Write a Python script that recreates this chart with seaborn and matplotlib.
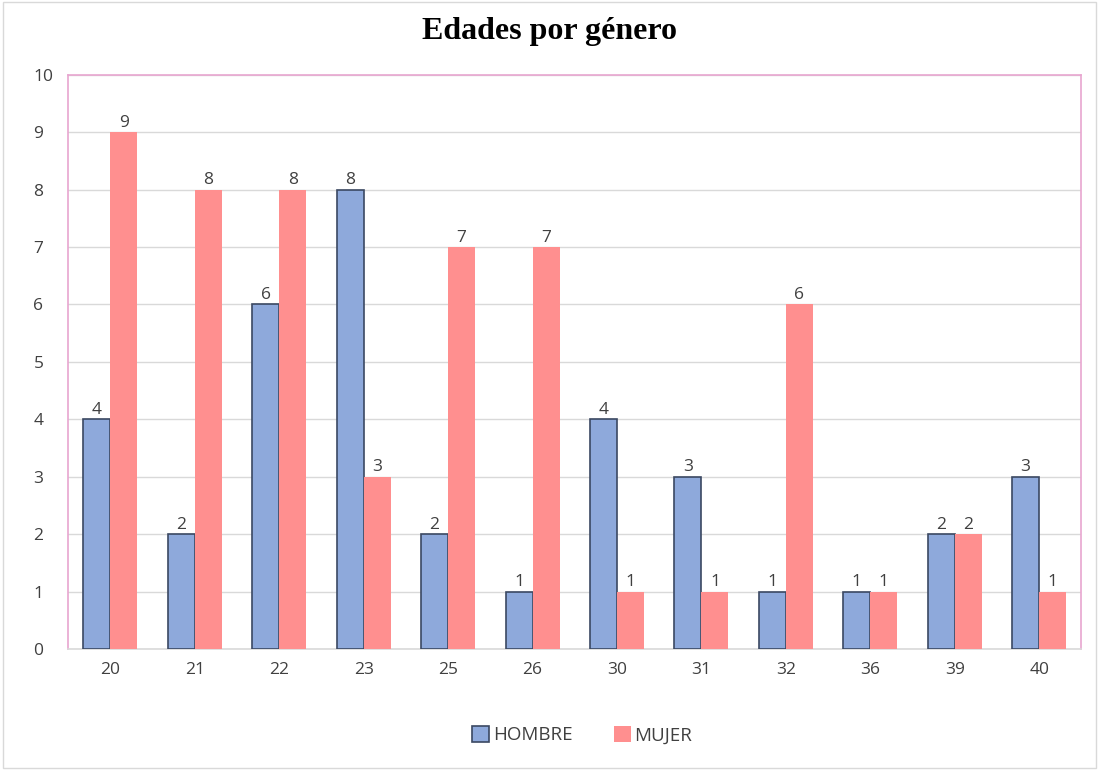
import pandas as pd
import seaborn as sns
import matplotlib.pyplot as plt
from matplotlib.patches import Patch

# datos
edades = ['20', '21', '22', '23', '25', '26', '30', '31', '32', '36', '39', '40']
hombre = [4, 2, 6, 8, 2, 1, 4, 3, 1, 1, 2, 3]
mujer = [9, 8, 8, 3, 7, 7, 1, 1, 6, 1, 2, 1]
generos = ['HOMBRE', 'MUJER']

df = pd.DataFrame({
    'edad': edades * 2,
    'cantidad': hombre + mujer,
    'genero': ['HOMBRE'] * len(edades) + ['MUJER'] * len(edades),
})

azul = '#8EA9DB'
rosa = '#FF8F8F'
texto = '#404040'

sns.set_style('white')
plt.rcParams['font.family'] = ['Open Sans', 'DejaVu Sans']

fig = plt.figure(figsize=(10.99, 7.7), dpi=100)
ax = fig.add_axes([0.062, 0.157, 0.922, 0.746])

sns.barplot(data=df, x='edad', y='cantidad', hue='genero', order=edades,
            hue_order=generos, palette=[azul, rosa], width=0.64, gap=0,
            saturation=1, legend=False, ax=ax, zorder=3)

# borde oscuro solo en las barras azules
for c, col in zip(ax.containers, [azul, rosa]):
    for p in c:
        if col == azul:
            p.set_edgecolor('#3B4862')
            p.set_linewidth(1.2)
        else:
            p.set_edgecolor('none')
    ax.bar_label(c, fontsize=12.5, color=texto, padding=1)

ax.set_ylim(0, 10)
ax.set_yticks(range(0, 11))
ax.set_xlim(-0.5, len(edades) - 0.5)
ax.yaxis.grid(True, color='#D9D9D9', linewidth=1, zorder=0)
ax.set_axisbelow(True)
ax.set_xlabel('')
ax.set_ylabel('')
ax.tick_params(axis='both', length=0, labelsize=12.5, labelcolor=texto, pad=9)
ax.tick_params(axis='y', pad=25)
for lbl in ax.get_yticklabels():
    lbl.set_horizontalalignment('left')
for s in ax.spines.values():
    s.set_visible(True)
    s.set_color('#E8A6D0')
    s.set_linewidth(1.2)
ax.spines['bottom'].set_color('#D9D9D9')

fig.suptitle('Edades por género', fontsize=23, fontweight='bold', color='black',
             family='Liberation Serif', y=0.978)

handles = [Patch(facecolor=azul, edgecolor='#3B4862', linewidth=1.2),
           Patch(facecolor=rosa, edgecolor='none')]
fig.legend(handles, generos, loc='center', bbox_to_anchor=(0.53, 0.045), ncol=2,
           frameon=False, fontsize=13.5, labelcolor=texto, handlelength=0.9,
           handleheight=0.9, handletextpad=0.2, columnspacing=2.2)

# marco exterior gris claro
fig.patches.append(plt.Rectangle((0.003, 0.003), 0.994, 0.994, transform=fig.transFigure,
                                 fill=False, edgecolor='#D9D9D9', linewidth=1))

fig.savefig('out.png', dpi=100)
